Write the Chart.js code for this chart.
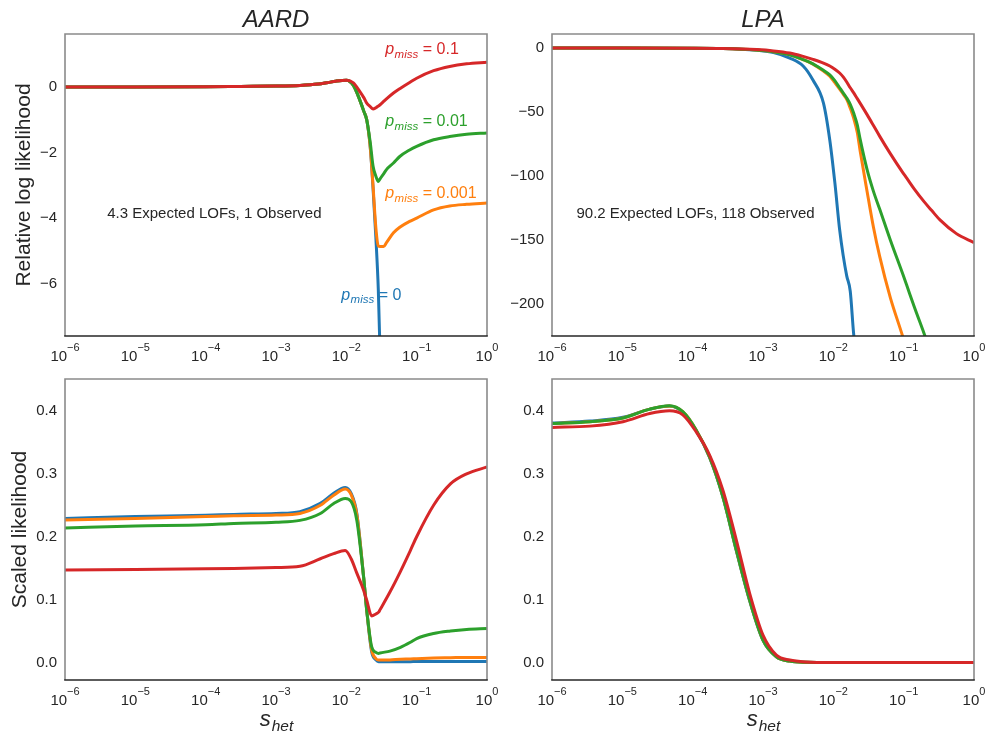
<!DOCTYPE html>
<html>
<head>
<meta charset="utf-8">
<script src="https://cdn.jsdelivr.net/npm/chart.js@4.4.1/dist/chart.umd.min.js"></script>
<style>
  html, body { margin: 0; padding: 0; background: #fff; }
  #wrap { position: relative; width: 987px; height: 736px; }
  #wrap canvas { position: absolute; left: 0; top: 0; }
</style>
</head>
<body>
<div id="wrap">
  <canvas id="aardLog" width="987" height="736"></canvas>
  <canvas id="lpaLog" width="987" height="736"></canvas>
  <canvas id="aardScaled" width="987" height="736"></canvas>
  <canvas id="lpaScaled" width="987" height="736"></canvas>
</div>
<script>
// s_het grid and curves (p_miss = 0, 0.001, 0.01, 0.1)
const xTicks = [1e-6, 1e-5, 1e-4, 1e-3, 1e-2, 1e-1, 1];
const xTickExp = ["\u22126", "\u22125", "\u22124", "\u22123", "\u22122", "\u22121", "0"];
const pMissLabels = ["0", "0.001", "0.01", "0.1"];
const colors = ["#1f77b4", "#ff7f0e", "#2ca02c", "#d62728"];

// AARD, relative log likelihood
const aardLogS = [1e-6, 1e-5, 1e-4, 3.16e-4, 1e-3, 2.19e-3, 3.98e-3, 5.25e-3, 7.08e-3, 1.0e-2,
  1.26e-2, 1.55e-2, 1.78e-2, 1.95e-2, 2.19e-2, 2.40e-2, 2.63e-2, 2.85e-2, 3.02e-2, 3.39e-2,
  3.72e-2, 4.68e-2, 5.75e-2, 7.94e-2, 0.1, 0.174, 0.295, 0.513, 1];
const aardLogP0 = [0, 0, 0.01, 0.02, 0.03, 0.05, 0.09, 0.13, 0.18, 0.21,
  0.05, -0.39, -0.75, -1.0, -1.85, -3.1, -4.6, -6.2, -8.2, null,
  null, null, null, null, null, null, null, null, null];
const aardLogP001 = [0, 0, 0.01, 0.02, 0.03, 0.05, 0.09, 0.13, 0.18, 0.21,
  0.05, -0.39, -0.75, -1.0, -1.85, -3.03, -4.30, -4.85, -4.87, -4.87,
  -4.75, -4.45, -4.28, -4.10, -4.0, -3.75, -3.63, -3.58, -3.54];
const aardLogP01 = [0, 0, 0.01, 0.02, 0.03, 0.05, 0.09, 0.13, 0.18, 0.21,
  0.05, -0.39, -0.75, -1.0, -1.7, -2.42, -2.72, -2.88, -2.80, -2.65,
  -2.52, -2.32, -2.12, -1.92, -1.81, -1.61, -1.51, -1.44, -1.40];
const aardLogP1 = [0, 0, 0.01, 0.02, 0.03, 0.05, 0.09, 0.13, 0.18, 0.21,
  0.13, -0.13, -0.33, -0.49, -0.60, -0.67, -0.63, -0.58, -0.54, -0.44,
  -0.36, -0.18, -0.05, 0.14, 0.27, 0.50, 0.63, 0.71, 0.76];

// LPA, relative log likelihood
const lpaLogS = [1e-6, 1e-5, 1e-4, 2.69e-4, 8.13e-4, 1.41e-3, 2.40e-3, 3.72e-3, 5.13e-3, 7.24e-3,
  8.91e-3, 1.05e-2, 1.23e-2, 1.38e-2, 1.55e-2, 1.74e-2, 1.95e-2, 2.19e-2, 2.40e-2, 3.02e-2,
  3.72e-2, 4.57e-2, 6.46e-2, 9.77e-2, 0.110, 0.141, 0.195, 0.251, 0.331, 0.562, 1];
const lpaLogP0 = [0, 0, -0.05, -0.3, -1.8, -3.5, -7.8, -14, -25, -43,
  -72, -105, -142, -162, -178, -190, -224, -245, null, null,
  null, null, null, null, null, null, null, null, null, null, null];
const lpaLogP001 = [0, 0, -0.05, -0.3, -1.5, -2.8, -5.2, -9, -12.5, -18,
  -22, -27, -32, -36, -40, -47, -55, -66, -80, -112,
  -140, -163, -195, -226, -236, null, null, null, null, null, null];
const lpaLogP01 = [0, 0, -0.05, -0.3, -1.5, -2.8, -5.2, -9, -12.3, -17.4,
  -21, -25.5, -31, -35, -39, -44, -51, -60, -71, -95,
  -112, -126, -150, -177, -185, -202, -223, -240, null, null, null];
const lpaLogP1 = [0, 0, -0.05, -0.3, -1.2, -2.2, -3.9, -6.5, -8.8, -11.7,
  -14, -16.5, -19.5, -22.5, -26.5, -31, -35, -39.5, -43, -52,
  -60.5, -69, -82.5, -97.5, -101.5, -110, -120, -127, -134.5, -145, -152];

// AARD, scaled likelihood
const aardScaledS = [1e-6, 1e-5, 1e-4, 2.51e-4, 1e-3, 2.19e-3, 4.27e-3, 6.61e-3, 9.64e-3, 1.17e-2,
  1.41e-2, 1.76e-2, 1.95e-2, 2.29e-2, 2.63e-2, 2.88e-2, 3.02e-2, 4.17e-2, 5.89e-2, 8.13e-2,
  0.1, 0.174, 0.302, 0.513, 1];
const aardScaledP0 = [0.229, 0.232, 0.234, 0.2355, 0.237, 0.240, 0.253, 0.269, 0.2785, 0.269,
  0.237, 0.136, 0.083, 0.017, 0.004, 0.001, 0.001, 0.001, 0.001, 0.0012,
  0.0015, 0.0016, 0.0016, 0.0016, 0.0016];
const aardScaledP001 = [0.2265, 0.229, 0.232, 0.2334, 0.2345, 0.237, 0.250, 0.266, 0.276, 0.267,
  0.235, 0.136, 0.083, 0.020, 0.006, 0.0037, 0.0037, 0.004, 0.005, 0.0055,
  0.006, 0.007, 0.0075, 0.008, 0.008];
const aardScaledP01 = [0.214, 0.217, 0.219, 0.221, 0.223, 0.226, 0.237, 0.253, 0.261, 0.256,
  0.226, 0.136, 0.083, 0.025, 0.016, 0.0143, 0.015, 0.018, 0.024, 0.032,
  0.038, 0.046, 0.050, 0.0525, 0.054];
const aardScaledP1 = [0.147, 0.148, 0.149, 0.1496, 0.151, 0.153, 0.165, 0.173, 0.178, 0.165,
  0.142, 0.115, 0.099, 0.074, 0.077, 0.080, 0.084, 0.112, 0.145, 0.178,
  0.200, 0.250, 0.284, 0.300, 0.311];

// LPA, scaled likelihood
const lpaScaledS = [1e-6, 3.47e-6, 1.02e-5, 2.45e-5, 4.68e-5, 7.24e-5, 1.12e-4, 1.74e-4, 2.69e-4,
  4.17e-4, 6.46e-4, 1e-3, 1.55e-3, 2.40e-3, 3.98e-3, 1e-2, 0.1, 1];
const lpaScaledP0 = [0.381, 0.384, 0.390, 0.403, 0.408, 0.398, 0.369, 0.326, 0.263,
  0.178, 0.098, 0.035, 0.009, 0.002, 0.0003, 0, 0, 0];
const lpaScaledP001 = [0.380, 0.383, 0.389, 0.403, 0.408, 0.399, 0.370, 0.327, 0.264,
  0.179, 0.099, 0.0355, 0.009, 0.002, 0.0003, 0, 0, 0];
const lpaScaledP01 = [0.380, 0.383, 0.389, 0.403, 0.4085, 0.399, 0.370, 0.327, 0.264,
  0.179, 0.099, 0.0355, 0.009, 0.002, 0.0003, 0, 0, 0];
const lpaScaledP1 = [0.374, 0.376, 0.383, 0.396, 0.4005, 0.394, 0.367, 0.330, 0.274,
  0.195, 0.110, 0.0435, 0.0117, 0.0037, 0.0008, 0, 0, 0];

const logTicks = [0, -2, -4, -6];
const lpaLogTicks = [0, -50, -100, -150, -200];
const scaledTicks = [0, 0.1, 0.2, 0.3, 0.4];

const INK = "#262626";
const SANS = "'Liberation Sans', Arial, sans-serif";

function fmtTick(v, dec) {
  const s = Math.abs(v).toFixed(dec);
  return v < 0 ? "\u2212" + s : s;
}

// titles, axis labels, notes, spines and 10^n tick labels
const decor = {
  id: "decor",
  afterDraw(chart, args, o) {
    const ctx = chart.ctx, a = chart.chartArea;
    const xs = chart.scales.x, ys = chart.scales.y;
    ctx.save();

    ctx.strokeStyle = "#8a8a8a";
    ctx.lineWidth = 1.6;
    ctx.beginPath();
    ctx.moveTo(a.left, a.bottom);
    ctx.lineTo(a.left, a.top);
    ctx.lineTo(a.right, a.top);
    ctx.lineTo(a.right, a.bottom);
    ctx.stroke();
    ctx.strokeStyle = INK;
    ctx.lineWidth = 1.5;
    ctx.beginPath();
    ctx.moveTo(a.left - 0.8, a.bottom);
    ctx.lineTo(a.right + 0.8, a.bottom);
    ctx.stroke();

    ctx.fillStyle = INK;
    ctx.textBaseline = "alphabetic";
    ctx.textAlign = "left";
    xTicks.forEach((v, i) => {
      const px = xs.getPixelForValue(v);
      ctx.font = "15px " + SANS;
      const w1 = ctx.measureText("10").width;
      ctx.font = "11px " + SANS;
      const w2 = ctx.measureText(xTickExp[i]).width;
      const x0 = px - (w1 + w2) / 2;
      const by = a.bottom + 25;
      ctx.font = "15px " + SANS;
      ctx.fillText("10", x0, by);
      ctx.font = "11px " + SANS;
      ctx.fillText(xTickExp[i], x0 + w1, by - 10);
    });

    if (o.title) {
      ctx.font = "italic 24px " + SANS;
      ctx.textAlign = "center";
      ctx.fillText(o.title, (a.left + a.right) / 2, a.top - 7);
    }
    if (o.ylabel) {
      ctx.save();
      ctx.translate(o.ylabelX, (a.top + a.bottom) / 2);
      ctx.rotate(-Math.PI / 2);
      ctx.font = "21px " + SANS;
      ctx.textAlign = "center";
      ctx.textBaseline = "middle";
      ctx.fillText(o.ylabel, 0, 0);
      ctx.restore();
    }
    if (o.xlabel) {
      ctx.textAlign = "left";
      ctx.font = "italic 22px " + SANS;
      const ws = ctx.measureText("s").width;
      ctx.font = "italic 15.5px " + SANS;
      const wh = ctx.measureText("het").width;
      const x0 = (a.left + a.right) / 2 - (ws + wh) / 2;
      ctx.font = "italic 22px " + SANS;
      ctx.fillText("s", x0, a.bottom + 46);
      ctx.font = "italic 15.5px " + SANS;
      ctx.fillText("het", x0 + ws + 1, a.bottom + 50.5);
    }
    if (o.note) {
      ctx.textAlign = "left";
      ctx.font = "15px " + SANS;
      ctx.fillText(o.note.text, a.left + o.note.fx * (a.right - a.left),
        a.bottom - o.note.fy * (a.bottom - a.top));
    }
    (o.pLabels || []).forEach(p => {
      let x = xs.getPixelForValue(p.s);
      const y = ys.getPixelForValue(p.y);
      ctx.fillStyle = p.color;
      ctx.textAlign = "left";
      ctx.font = "italic 16px " + SANS;
      ctx.fillText("p", x, y);
      x += ctx.measureText("p").width + 0.5;
      ctx.font = "italic 11.5px " + SANS;
      ctx.fillText("miss", x, y + 3.5);
      x += ctx.measureText("miss").width + 4.5;
      ctx.font = "16px " + SANS;
      ctx.fillText("=", x, y);
      x += ctx.measureText("=").width + 4.5;
      ctx.fillText(p.text, x, y);
    });
    ctx.restore();
  }
};

function makePanel(id, box, xs, curves, yRange, yTicks, yDec, deco) {
  new Chart(document.getElementById(id), {
    type: "line",
    data: {
      datasets: curves.map((ys, i) => ({
        data: xs.map((x, j) => ({ x: x, y: ys[j] })).filter(p => p.y !== null),
        borderColor: colors[i],
        borderWidth: 3,
        pointRadius: 0,
        fill: false,
        cubicInterpolationMode: "monotone",
        order: 4 - i
      }))
    },
    options: {
      responsive: false,
      animation: false,
      events: [],
      layout: { padding: { left: box.l - 50, top: box.t, right: 987 - box.r, bottom: 736 - box.b - 30 } },
      plugins: { legend: { display: false }, tooltip: { enabled: false }, decor: deco },
      scales: {
        x: {
          type: "logarithmic", min: 1e-6, max: 1,
          grid: { display: false, drawTicks: false },
          border: { display: false },
          ticks: { display: false },
          afterFit: s => { s.height = 30; s.paddingLeft = 0; s.paddingRight = 0; s.paddingTop = 0; s.paddingBottom = 0; }
        },
        y: {
          min: yRange[0], max: yRange[1],
          grid: { display: false, drawTicks: false },
          border: { display: false },
          afterBuildTicks: s => { s.ticks = yTicks.map(v => ({ value: v })); },
          ticks: {
            padding: 8, color: INK, autoSkip: false,
            font: { family: SANS, size: 15 },
            callback: v => fmtTick(v, yDec)
          },
          afterFit: s => { s.width = 50; s.paddingLeft = 0; s.paddingRight = 0; s.paddingTop = 0; s.paddingBottom = 0; }
        }
      }
    },
    plugins: [decor]
  });
}

makePanel("aardLog", { l: 65, t: 34, r: 487, b: 336 }, aardLogS,
  [aardLogP0, aardLogP001, aardLogP01, aardLogP1], [-7.6, 1.62], logTicks, 0, {
    title: "AARD", ylabel: "Relative log likelihood", ylabelX: 24,
    note: { text: "4.3 Expected LOFs, 1 Observed", fx: 0.1, fy: 0.39 },
    pLabels: [
      { s: 0.0357, y: 1.0, color: colors[3], text: pMissLabels[3] },
      { s: 0.0357, y: -1.2, color: colors[2], text: pMissLabels[2] },
      { s: 0.0357, y: -3.4, color: colors[1], text: pMissLabels[1] },
      { s: 0.00845, y: -6.5, color: colors[0], text: pMissLabels[0] }
    ]
  });

makePanel("lpaLog", { l: 552, t: 34, r: 974, b: 336 }, lpaLogS,
  [lpaLogP0, lpaLogP001, lpaLogP01, lpaLogP1], [-225, 11], lpaLogTicks, 0, {
    title: "LPA",
    note: { text: "90.2 Expected LOFs, 118 Observed", fx: 0.058, fy: 0.39 }
  });

makePanel("aardScaled", { l: 65, t: 379, r: 487, b: 680 }, aardScaledS,
  [aardScaledP0, aardScaledP001, aardScaledP01, aardScaledP1], [-0.028, 0.451], scaledTicks, 1, {
    ylabel: "Scaled likelihood", ylabelX: 20, xlabel: true
  });

makePanel("lpaScaled", { l: 552, t: 379, r: 974, b: 680 }, lpaScaledS,
  [lpaScaledP0, lpaScaledP001, lpaScaledP01, lpaScaledP1], [-0.028, 0.451], scaledTicks, 1, {
    xlabel: true
  });
</script>
</body>
</html>
